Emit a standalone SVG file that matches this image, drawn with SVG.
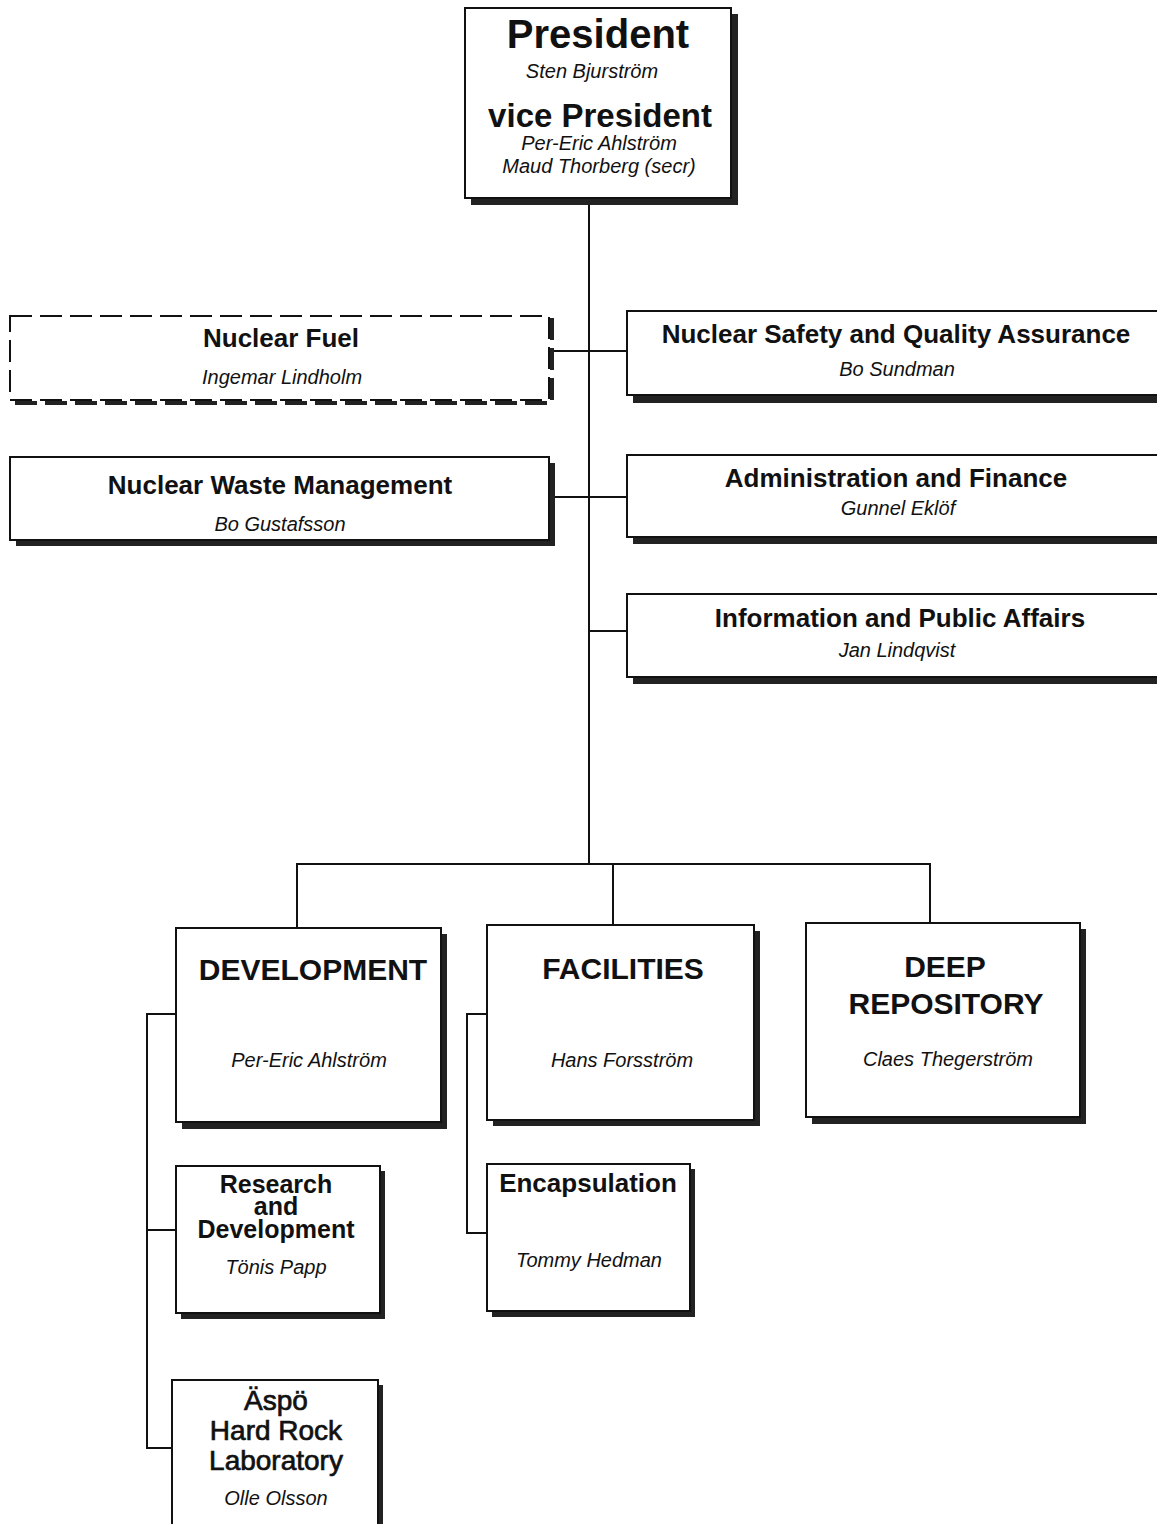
<svg xmlns="http://www.w3.org/2000/svg" width="1157" height="1524" viewBox="0 0 1157 1524">
<style>
.bg{fill:#fff}
.box{fill:#fff;stroke:#111;stroke-width:2}
.sh{fill:#222}
.dash{fill:#fff;stroke:#111;stroke-width:2;stroke-dasharray:22 8}
.dsh{fill:none;stroke:#222;stroke-width:4;stroke-dasharray:22 8}
.ln{fill:none;stroke:#111;stroke-width:2}
text{font-family:"Liberation Sans",Arial,Helvetica,sans-serif;fill:#111;text-anchor:middle}
.h{font-weight:bold;font-size:26px}
.hr{font-weight:bold;font-size:25px}
.hb{font-weight:bold;font-size:30px}
.n{font-style:italic;font-size:20px}
.a{font-size:28px;stroke:#111;stroke-width:0.7}
</style>
<rect class="bg" x="0" y="0" width="1157" height="1524"/>

<g id="connectors">
<path class="ln" d="M589 199 V863"/>
<path class="ln" d="M549 351 H627"/>
<path class="ln" d="M549 497 H627"/>
<path class="ln" d="M589 631 H627"/>
<path class="ln" d="M297 928 V864 H930 V922"/>
<path class="ln" d="M613 863 V925"/>
<path class="ln" d="M176 1014 H147 V1448 H172"/>
<path class="ln" d="M176 1230 H147"/>
<path class="ln" d="M487 1014 H467 V1233 H487"/>
</g>

<g id="president">
<rect class="sh" x="471" y="14" width="267" height="191"/>
<rect class="box" x="465" y="8" width="266" height="190"/>
<text x="598" y="48" style="font-weight:bold;font-size:40px">President</text>
<text class="n" x="592" y="78">Sten Bjurström</text>
<text x="600" y="127" style="font-weight:bold;font-size:33px">vice President</text>
<text class="n" x="599" y="150">Per-Eric Ahlström</text>
<text class="n" x="599" y="173">Maud Thorberg (secr)</text>
</g>

<g id="nuclear-fuel">
<path class="dsh" d="M552 318 V403 H12"/>
<rect class="dash" x="10" y="316" width="539" height="84"/>
<text class="h" x="281" y="347">Nuclear Fuel</text>
<text class="n" x="282" y="384">Ingemar Lindholm</text>
</g>

<g id="nuclear-safety">
<rect class="sh" x="633" y="317" width="530" height="86"/>
<rect class="box" x="627" y="311" width="540" height="84"/>
<text class="h" x="896" y="343">Nuclear Safety and Quality Assurance</text>
<text class="n" x="897" y="376">Bo Sundman</text>
</g>

<g id="nuclear-waste">
<rect class="sh" x="16" y="463" width="539" height="83"/>
<rect class="box" x="10" y="457" width="539" height="83"/>
<text class="h" x="280" y="494">Nuclear Waste Management</text>
<text class="n" x="280" y="531">Bo Gustafsson</text>
</g>

<g id="admin-finance">
<rect class="sh" x="633" y="461" width="530" height="83"/>
<rect class="box" x="627" y="455" width="540" height="82"/>
<text class="h" x="896" y="487">Administration and Finance</text>
<text class="n" x="898" y="515">Gunnel Eklöf</text>
</g>

<g id="info-public">
<rect class="sh" x="633" y="600" width="530" height="84"/>
<rect class="box" x="627" y="594" width="540" height="83"/>
<text class="h" x="900" y="627">Information and Public Affairs</text>
<text class="n" x="897" y="657">Jan Lindqvist</text>
</g>

<g id="development">
<rect class="sh" x="182" y="934" width="265" height="195"/>
<rect class="box" x="176" y="928" width="265" height="194"/>
<text class="hb" x="313" y="980">DEVELOPMENT</text>
<text class="n" x="309" y="1067">Per-Eric Ahlström</text>
</g>

<g id="facilities">
<rect class="sh" x="493" y="931" width="267" height="195"/>
<rect class="box" x="487" y="925" width="267" height="195"/>
<text class="hb" x="623" y="979">FACILITIES</text>
<text class="n" x="622" y="1067">Hans Forsström</text>
</g>

<g id="deep-repository">
<rect class="sh" x="812" y="929" width="274" height="195"/>
<rect class="box" x="806" y="923" width="274" height="194"/>
<text class="hb" x="945" y="977">DEEP</text>
<text class="hb" x="946" y="1014">REPOSITORY</text>
<text class="n" x="948" y="1066">Claes Thegerström</text>
</g>

<g id="research-development">
<rect class="sh" x="181" y="1171" width="204" height="148"/>
<rect class="box" x="176" y="1166" width="204" height="147"/>
<text class="hr" x="276" y="1193">Research</text>
<text class="hr" x="276" y="1215">and</text>
<text class="hr" x="276" y="1238">Development</text>
<text class="n" x="276" y="1274">Tönis Papp</text>
</g>

<g id="encapsulation">
<rect class="sh" x="492" y="1169" width="203" height="148"/>
<rect class="box" x="487" y="1164" width="203" height="147"/>
<text class="h" x="588" y="1192">Encapsulation</text>
<text class="n" x="589" y="1267">Tommy Hedman</text>
</g>

<g id="aspo">
<rect class="sh" x="177" y="1385" width="206" height="150"/>
<rect class="box" x="172" y="1380" width="206" height="160"/>
<text class="a" x="276" y="1410">Äspö</text>
<text class="a" x="276" y="1440">Hard Rock</text>
<text class="a" x="276" y="1470">Laboratory</text>
<text class="n" x="276" y="1505">Olle Olsson</text>
</g>
</svg>
